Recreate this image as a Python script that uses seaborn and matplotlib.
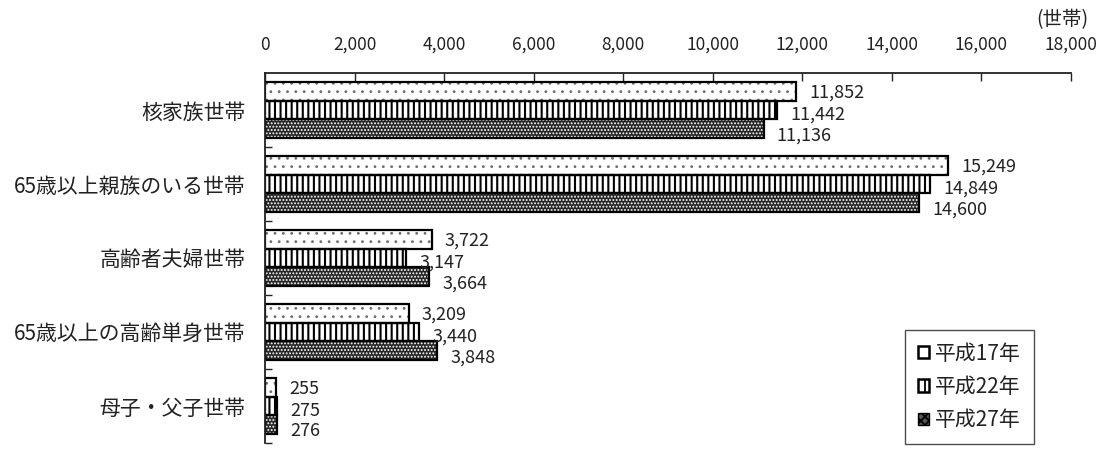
import matplotlib
matplotlib.use("Agg")
import matplotlib.pyplot as plt
from matplotlib.patches import Patch, Rectangle
from matplotlib.ticker import FuncFormatter, MultipleLocator, FixedLocator
import seaborn as sns
import pandas as pd
import numpy as np

# Household counts by type, three census years
categories = ["核家族世帯", "65歳以上親族のいる世帯", "高齢者夫婦世帯",
              "65歳以上の高齢単身世帯", "母子・父子世帯"]
years = ["平成17年", "平成22年", "平成27年"]
h17 = [11852, 15249, 3722, 3209, 255]
h22 = [11442, 14849, 3147, 3440, 275]
h27 = [11136, 14600, 3664, 3848, 276]
unit_label = "(世帯)"

df = pd.DataFrame({
    "世帯": categories * 3,
    "年": [y for y in years for _ in categories],
    "世帯数": h17 + h22 + h27,
})

sns.set_theme(style="white")
plt.rcParams["font.family"] = ["Noto Sans CJK JP", "DejaVu Sans"]
plt.rcParams["hatch.linewidth"] = 1.3

fig = plt.figure(figsize=(11.05, 4.49), dpi=100)
ax = fig.add_axes([265 / 1105, 1 - 443 / 449, (1071 - 265) / 1105, (443 - 73) / 449])

sns.barplot(data=df, y="世帯", x="世帯数", hue="年", orient="h",
            order=categories, hue_order=years,
            palette=["white"] * 3, width=0.77, dodge=True,
            edgecolor="black", linewidth=1.5, legend=False, ax=ax)

# fill pattern per year: (hatch, hatch colour, face colour, hatch line width)
styles = [
    ("..", "#6e6e6e", "white", 0.8),
    ("|||", "black", "white", 1.5),
    (".....", "white", "#262626", 0.9),
]
label_dy = [-1.5, -3.5, -4.5]
for cont, (hatch, hcol, face, hlw), dy in zip(ax.containers, styles, label_dy):
    for bar in cont:
        bar.set_hatch(hatch)
        bar.set_facecolor(face)
        bar.set_edgecolor(hcol)
        bar.set_linewidth(0)
        if hasattr(bar, "set_hatch_linewidth"):
            bar.set_hatch_linewidth(hlw)
        # black outline drawn over the patterned bar
        ax.add_patch(Rectangle(bar.get_xy(), bar.get_width(), bar.get_height(),
                               fill=False, edgecolor="black", linewidth=1.6,
                               zorder=bar.get_zorder() + 0.1))
        w = bar.get_width()
        yc = bar.get_y() + bar.get_height() / 2
        ax.annotate(f"{int(round(w)):,}", xy=(w, yc), xytext=(9.5, dy),
                    textcoords="offset points", va="center", ha="left",
                    fontsize=13, color="#222222")

ax.set_xlim(0, 18000)
ax.set_ylim(4.5, -0.5)
ax.set_xlabel("")
ax.set_ylabel("")

# value axis on top, ticks pointing into the plot
ax.xaxis.tick_top()
ax.xaxis.set_major_locator(MultipleLocator(2000))
ax.xaxis.set_major_formatter(FuncFormatter(lambda v, p: f"{int(v):,}"))
ax.tick_params(axis="x", direction="in", length=6, width=1, pad=14,
               labelsize=12.5, colors="#222222", top=True, bottom=False)

# category axis: labels without ticks, separators between groups
ax.tick_params(axis="y", which="major", length=0, pad=14, labelsize=15,
               labelcolor="#222222")
ax.yaxis.set_minor_locator(FixedLocator(np.arange(0.5, 4.6, 1.0)))
ax.tick_params(axis="y", which="minor", direction="in", length=5, width=1,
               color="#222222", left=True)

for side in ["right", "bottom"]:
    ax.spines[side].set_visible(False)
for side in ["top", "left"]:
    ax.spines[side].set_visible(True)
    ax.spines[side].set_color("#222222")
    ax.spines[side].set_linewidth(1.3)

fig.text(1088 / 1105, 1 - 20 / 449, unit_label, ha="right", va="center",
         fontsize=14, color="#222222")

handles = [
    Patch(facecolor="white", edgecolor="black", linewidth=1.8),
    Patch(facecolor="white", edgecolor="black", hatch="|", linewidth=1.8),
    Patch(facecolor="#555555", edgecolor="black", hatch="xxxx", linewidth=1.0),
]
leg = fig.legend(handles, years, loc="upper left",
                 bbox_to_anchor=(905 / 1105, 1 - 330 / 449),
                 bbox_transform=fig.transFigure, fontsize=15,
                 frameon=True, fancybox=False, borderaxespad=0,
                 handlelength=0.55, handleheight=0.55, handletextpad=0.3,
                 labelspacing=0.55, borderpad=0.6)
leg.get_frame().set_edgecolor("#222222")
leg.get_frame().set_linewidth(1.0)
for t in leg.get_texts():
    t.set_color("#222222")

fig.savefig("out.png", dpi=100)
